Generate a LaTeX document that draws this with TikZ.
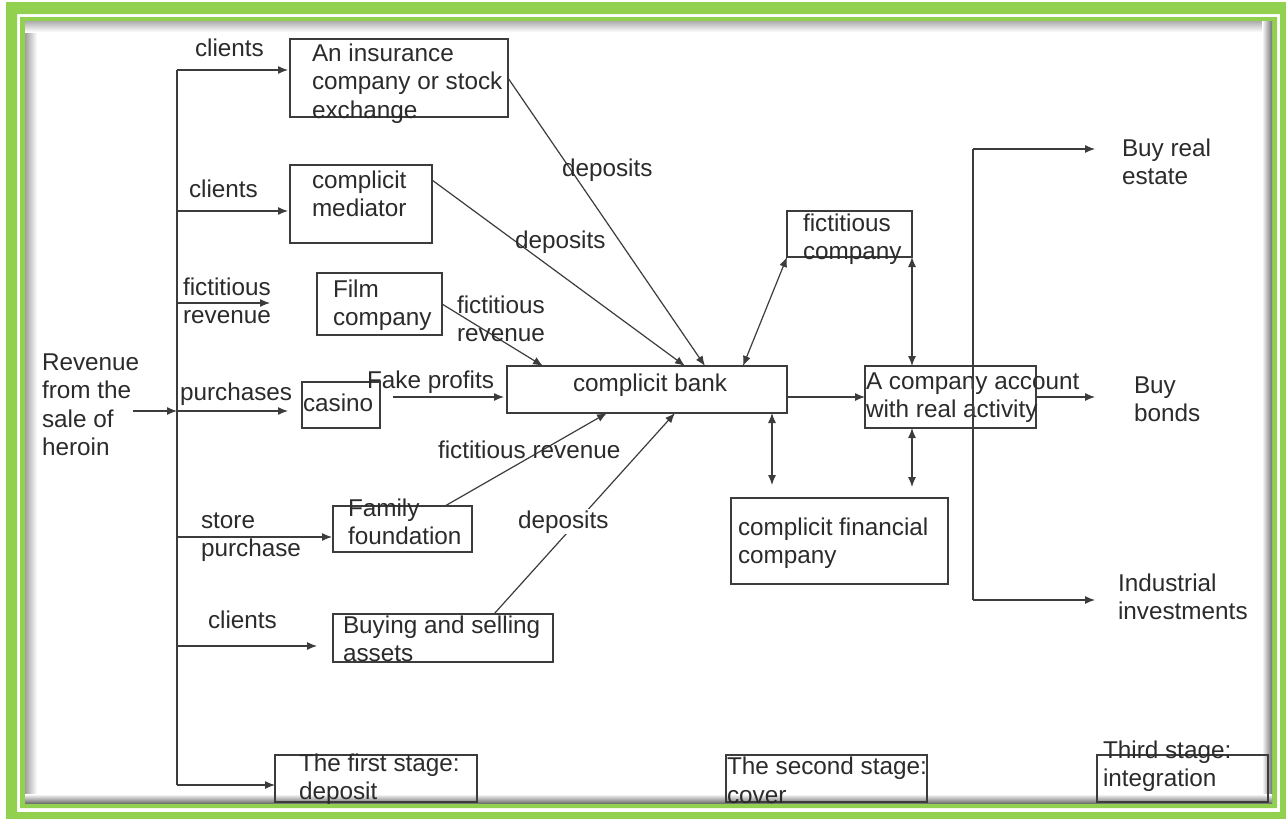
\documentclass[tikz,border=0pt]{standalone}
\usepackage{fontspec}
\setmainfont{Liberation Sans}
\usetikzlibrary{arrows.meta}
\definecolor{frgreen}{HTML}{92D050}
\definecolor{ink}{HTML}{2B2B2B}
\definecolor{wire}{HTML}{3C3C3C}
\newcommand\dgfs{\fontsize{24.3}{28.5}\selectfont}
\begin{document}
\begin{tikzpicture}[x=1pt,y=-1pt,
  box/.style={draw=wire,line width=1.2pt,inner sep=0pt,outer sep=0pt},
  txt/.style={inner sep=0pt,outer sep=0pt,align=left,anchor=base west,font=\dgfs,text=ink},
  wireline/.style={draw=wire,line width=1.2pt},
  arr/.style={wireline,-{Latex[length=10pt,width=8pt]}},
  darr/.style={wireline,{Latex[length=10pt,width=8pt]}-{Latex[length=10pt,width=8pt]}}]
\useasboundingbox (0,0) rectangle (1286,819);
% frame
\fill[white] (0,0) rectangle (1286,819);
\fill[frgreen,even odd rule] (6,2) rectangle (1286,819) (17,14) rectangle (1280,812);
\fill[frgreen,even odd rule] (20,17) rectangle (1277,808) (25,21) rectangle (1272,803);
\shade[left color=gray!75,right color=white] (25,21) rectangle (37,803);
\shade[top color=gray!65,bottom color=white] (25,21) rectangle (1272,32);
\shade[left color=white,right color=gray!90!black] (1262,21) rectangle (1272,803);
\shade[top color=white,bottom color=gray!90!black] (25,794) rectangle (1272,803);

% boxes
\node[box,minimum width=218pt,minimum height=78pt] (ins) at (399,78) {};
\node[box,minimum width=142pt,minimum height=78pt] (med) at (361,204) {};
\node[box,minimum width=125pt,minimum height=62pt] (film) at (379.5,304) {};
\node[box,minimum width=78pt,minimum height=46pt] (casino) at (341,405) {};
\node[box,minimum width=280pt,minimum height=47pt] (bank) at (647,389.5) {};
\node[box,minimum width=125pt,minimum height=46pt] (fict) at (849.5,234) {};
\node[box,minimum width=171pt,minimum height=62pt] (acct) at (950.5,397) {};
\node[box,minimum width=217pt,minimum height=86pt] (fin) at (839.5,541) {};
\node[box,minimum width=139pt,minimum height=46pt] (fam) at (402.5,529) {};
\node[box,minimum width=220pt,minimum height=48pt] (bas) at (443,638) {};
\node[box,minimum width=202pt,minimum height=47pt] (s1) at (376,778.5) {};
\node[box,minimum width=201pt,minimum height=47pt] (s2) at (826.5,778.5) {};
\node[box,minimum width=171pt,minimum height=47pt] (s3) at (1182.5,778.5) {};

% box texts (anchor = baseline of the last line)
\node[txt] (insT) at (312,118) {An insurance\\company or stock\\exchange};
\node[txt] (medT) at (312,216.5) {complicit\\mediator};
\node[txt] (filmT) at (333,325.5) {Film\\company};
\node[txt] (casinoT) at (303,411) {casino};
\node[txt,anchor=base] (bankT) at (650,391) {complicit bank};
\node[txt] (fictT) at (803,259.5) {fictitious\\company};
\node[txt] (acctT) at (866,417.5) {A company account\\with real activity};
\node[txt] (finT) at (738,563.5) {complicit financial\\company};
\node[txt] (famT) at (348,544.5) {Family\\foundation};
\node[txt] (basT) at (343,661.5) {Buying and selling\\assets};
\node[txt] (s1T) at (299,799.5) {The first stage:\\deposit};
\node[txt] (s2T) at (727,803) {The second stage:\\cover};
\node[txt] (s3T) at (1103,786.5) {Third stage:\\integration};

% free texts
\node[txt] (rev) at (42,455.5) {Revenue\\from the\\sale of\\heroin};
\node[txt] (estate) at (1122,184.5) {Buy real\\estate};
\node[txt] (bonds) at (1134,421.5) {Buy\\bonds};
\node[txt] (indus) at (1118,619.5) {Industrial\\investments};

% left trunk
\coordinate (revout) at (133,411);
\coordinate (t1) at (177,70);
\coordinate (t2) at (177,211);
\coordinate (t3) at (177,303);
\coordinate (t4) at (177,411);
\coordinate (t5) at (177,537);
\coordinate (t6) at (177,646);
\coordinate (t7) at (177,785);
\coordinate (e3) at (270,303);
\draw[arr] (revout) -- (t4);
\draw[wireline] (t1) -- (t7);
\draw[arr,shorten >=2pt] (t1) -- (t1 -| ins.west);
\draw[arr,shorten >=2pt] (t2) -- (t2 -| med.west);
\draw[arr] (t3) -- (e3);
\draw[arr,shorten >=14pt] (t4) -- (t4 -| casino.west);
\draw[arr,shorten >=1pt] (t5) -- (t5 -| fam.west);
\draw[arr,shorten >=16pt] (t6) -- (t6 -| bas.west);
\draw[arr] (t7) -- (t7 -| s1.west);

\node[txt] (l1) at (195,56) {clients};
\node[txt] (l2) at (189,197) {clients};
\node[txt] (l3) at (183,323.5) {fictitious\\revenue};
\node[txt] (l4) at (180,400) {purchases};
\node[txt] (l5) at (201,556.5) {store\\purchase};
\node[txt] (l6) at (208,628) {clients};

% into bank
\draw[arr] (ins.east) -- ([xshift=198pt]bank.north west);
\draw[arr] ([yshift=24pt]med.east) -- ([xshift=178pt]bank.north west);
\draw[arr] (film.east) -- ([xshift=36pt]bank.north west);
\path ([yshift=-7.5pt]bank.west) coordinate (bankin);
\draw[arr,shorten <=13pt,shorten >=3pt] (casino.east |- bankin) -- (bankin);
\draw[arr] ([xshift=112pt]fam.north west) -- ([xshift=100pt]bank.south west);
\draw[arr] ([xshift=161pt]bas.north west) -- ([xshift=168pt]bank.south west);

\node[txt] (d1) at (562,176) {deposits};
\node[txt] (d2) at (515,248) {deposits};
\node[txt] (fr1) at (457,341.5) {fictitious\\revenue};
\node[txt] (fp) at (367,388) {Fake profits};
\node[txt] (fr2) at (438,458) {fictitious revenue};
\node[txt,fill=white,inner sep=1pt] (d3) at (517,528) {deposits};

% right part
\draw[darr] ([xshift=236pt]bank.north west) -- (fict.south west);
\draw[darr] (fict.south east) -- (fict.south east |- acct.north);
\draw[arr] (bank.east |- acct.west) -- (acct.west);
\draw[darr,shorten >=13pt] ([xshift=-15pt]bank.south east) -- ([xshift=-15pt]bank.south east |- fin.north);
\draw[darr,shorten >=11pt] (fict.south east |- acct.south) -- (fict.south east |- fin.north);

\coordinate (vt) at (973,149);
\coordinate (vb) at (973,600);
\coordinate (ere) at (1095,149);
\coordinate (ebo) at (1095,397);
\coordinate (eii) at (1095,600);
\draw[wireline] (vt) -- (vb);
\draw[arr] (vt) -- (ere);
\draw[arr] (vb) -- (eii);
\draw[arr] (acct.east) -- (ebo);
\end{tikzpicture}
\end{document}
